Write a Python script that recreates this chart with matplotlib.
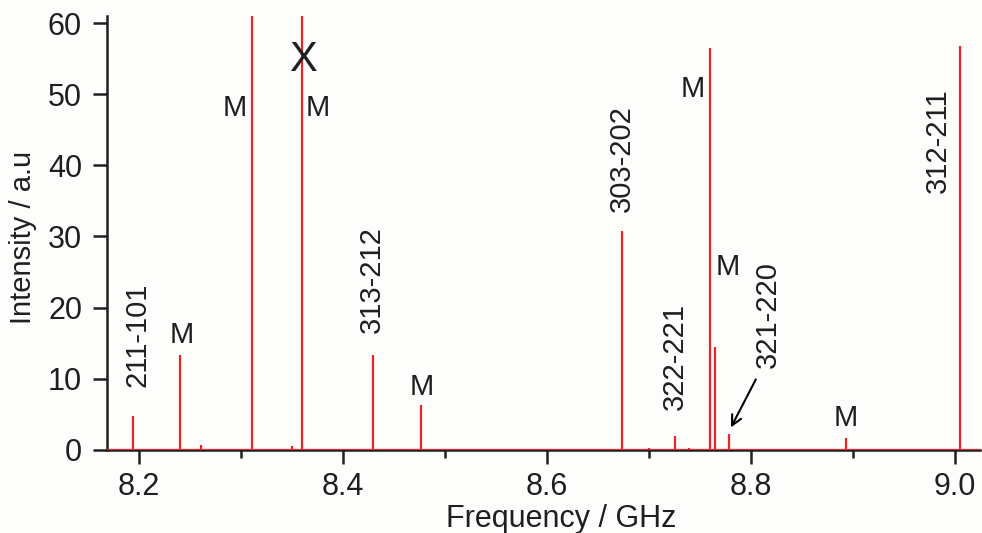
import numpy as np
import matplotlib.pyplot as plt

plt.rcParams['font.family'] = ['Liberation Sans', 'DejaVu Sans']

# Line positions (GHz) and intensities (a.u.)
freqs = [8.1946, 8.2407, 8.261, 8.311, 8.350, 8.360, 8.4296, 8.477,
         8.6737, 8.700, 8.726, 8.740, 8.7603, 8.765, 8.779, 8.8936, 9.0054]
heights = [4.7, 13.4, 0.7, 100.0, 0.5, 100.0, 13.3, 6.3,
           30.8, 0.3, 2.0, 0.3, 56.5, 14.4, 2.2, 1.7, 56.8]

# Assignment labels: (text, x, y, rotation)
labels = ['211-101', 'M', 'M', 'M', '313-212', 'M', '303-202',
          '322-221', 'M', 'M', '321-220', 'M', '312-211']
label_x = [8.1985, 8.2426, 8.2946, 8.376, 8.429, 8.478, 8.674,
           8.726, 8.7436, 8.778, 8.817, 8.8936, 8.984]
label_y = [16.2, 16.2, 48.0, 48.0, 23.9, 8.8, 40.9,
           13.1, 50.8, 25.7, 19.0, 4.5, 43.5]
label_rot = [90, 0, 0, 0, 90, 0, 90, 90, 0, 0, 90, 0, 90]

red = '#e8262b'
ink = '#1f1f1f'

fig = plt.figure(figsize=(9.82, 5.33), dpi=100, facecolor='#fdfdfb')
ax = fig.add_axes([0.109, 0.156, 0.889, 0.814], facecolor='#fdfdfb')

ax.vlines(freqs, 0, heights, color=red, linewidth=1.6, zorder=3)
ax.axhline(0, color=red, linewidth=1.6, zorder=3)

for txt, x, y, r in zip(labels, label_x, label_y, label_rot):
    ax.text(x, y, txt, rotation=r, ha='center', va='center',
            fontsize=21, color=ink)

# unassigned line marked with X
ax.text(8.3613, 54.8, 'X', ha='center', va='center', fontsize=30, color=ink)

ax.annotate('', xy=(8.7795, 2.8), xytext=(8.8064, 10.25),
            arrowprops=dict(arrowstyle='->', color='black', lw=1.5,
                            mutation_scale=18))

ax.set_xlim(8.169, 9.025)
ax.set_ylim(0, 61)
ax.set_xticks([8.2, 8.4, 8.6, 8.8, 9.0])
ax.set_xticks([8.3, 8.5, 8.7, 8.9], minor=True)
ax.set_yticks(np.arange(0, 61, 10))

for side in ['top', 'right']:
    ax.spines[side].set_visible(False)
for side in ['left', 'bottom']:
    ax.spines[side].set_linewidth(1.8)
    ax.spines[side].set_color(ink)

ax.tick_params(axis='both', which='major', direction='out', length=10,
               width=1.8, labelsize=22, color=ink, labelcolor=ink, pad=8)
ax.tick_params(axis='x', which='major', pad=6)
ax.tick_params(axis='x', which='minor', direction='out', length=6, width=1.8,
               color=ink)

ax.set_xlabel('Frequency / GHz', fontsize=22, color=ink)
ax.set_ylabel('Intensity / a.u', fontsize=21, color=ink)
ax.xaxis.set_label_coords(0.52, -0.125)
ax.yaxis.set_label_coords(-0.096, 0.49)
ax.yaxis.label.set_va('center')

fig.savefig('out.png', dpi=100, facecolor=fig.get_facecolor())
